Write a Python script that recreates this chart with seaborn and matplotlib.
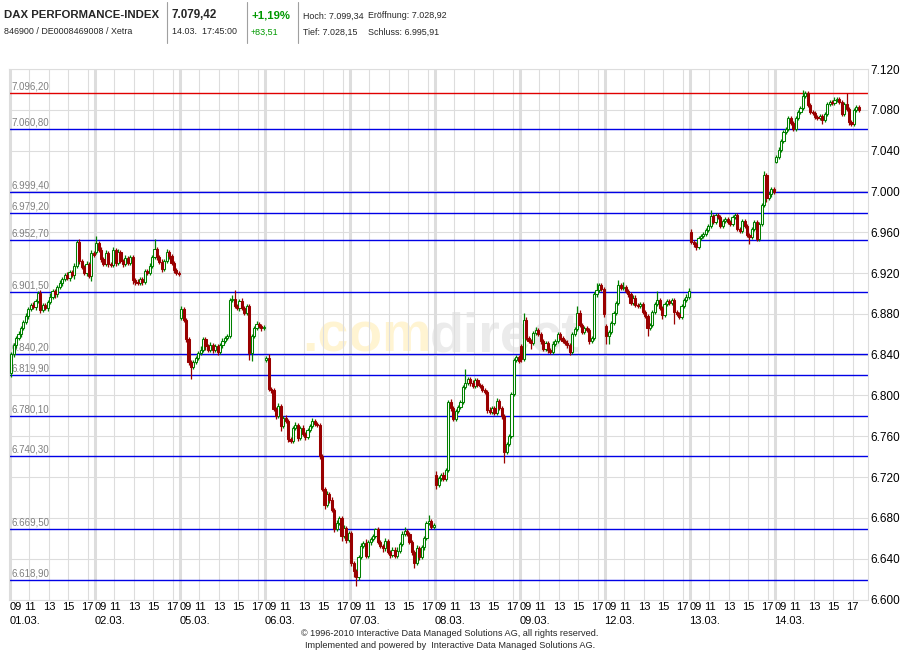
import numpy as np
import pandas as pd
import matplotlib.pyplot as plt
import seaborn as sns

# ===============================
# Style
# ===============================
sns.set_theme(style="white")
plt.rcParams['font.family'] = ['Liberation Sans', 'DejaVu Sans']

# ===============================
# Data (15-min candles, 09:00-17:45)
# ===============================
days = ["01.03.", "02.03.", "05.03.", "06.03.", "07.03.",
        "08.03.", "09.03.", "12.03.", "13.03.", "14.03."]
hour_labels = ["09", "11", "13", "15", "17"]
hour_slots = [0, 8, 16, 24, 32]
SLOTS = 35

levels = [7096.20, 7060.80, 6999.40, 6979.20, 6952.70, 6901.50,
          6840.20, 6819.90, 6780.10, 6740.30, 6669.50, 6618.90]
level_colors = ["#e00000"] + ["#0000e6"] * 11
y_ticks = list(range(6600, 7121, 40))

first_open = [6822, 6941, 6876, 6835, 6665, 6722, 6848, 6868, 6960, 7028.9]

c01 = [6841, 6849, 6856, 6860, 6866, 6872, 6878, 6885, 6889, 6887,
       6893, 6900, 6884, 6889, 6886, 6892, 6897, 6902, 6899, 6906,
       6910, 6914, 6918, 6915, 6921, 6918, 6927, 6950, 6932, 6926,
       6920, 6929, 6917, 6940, 6938]
up01 = [2, 2, 2, 3, 2, 2, 3, 2, 2, 3, 2, 2, 3, 2, 2, 2, 3, 2, 2, 2,
        3, 2, 2, 3, 2, 2, 3, 2, 3, 2, 2, 3, 2, 3, 2]
lo01 = [4, 3, 2, 2, 3, 2, 2, 3, 2, 2, 3, 2, 3, 2, 2, 3, 2, 2, 3, 2,
        2, 3, 2, 2, 3, 2, 4, 2, 3, 2, 2, 3, 2, 5, 2]

c02 = [6949, 6943, 6934, 6929, 6940, 6929, 6928, 6943, 6930, 6941,
       6932, 6929, 6935, 6930, 6936, 6913, 6911, 6910, 6914, 6911,
       6922, 6920, 6927, 6936, 6944, 6936, 6931, 6924, 6932, 6941,
       6937, 6930, 6923, 6920, 6919]
up02 = [7, 2, 3, 2, 3, 2, 2, 3, 2, 3, 2, 2, 3, 2, 2, 2, 2, 3, 2, 2,
        2, 2, 3, 2, 9, 2, 2, 3, 2, 3, 2, 2, 2, 2, 2]
lo02 = [2, 2, 3, 2, 2, 3, 2, 2, 3, 2, 2, 3, 2, 2, 2, 4, 3, 2, 2, 3,
        2, 2, 2, 2, 2, 3, 2, 3, 2, 2, 3, 2, 3, 2, 2]

c05 = [6885, 6874, 6855, 6833, 6828, 6833, 6837, 6842, 6845, 6855,
       6848, 6845, 6849, 6845, 6848, 6843, 6849, 6853, 6856, 6858,
       6894, 6895, 6888, 6886, 6893, 6886, 6881, 6888, 6842, 6858,
       6866, 6870, 6868, 6866, 6867]
up05 = [3, 2, 2, 2, 2, 2, 2, 2, 3, 2, 2, 2, 3, 2, 2, 2, 2, 3, 2, 2,
        2, 3, 8, 2, 2, 3, 2, 2, 2, 2, 2, 3, 2, 2, 2]
lo05 = [2, 2, 3, 3, 12, 2, 2, 2, 2, 2, 3, 2, 2, 3, 2, 3, 2, 2, 2, 2,
        2, 2, 2, 2, 3, 2, 2, 2, 7, 8, 2, 2, 2, 3, 2]

c06 = [6837, 6806, 6805, 6787, 6780, 6790, 6770, 6778, 6775, 6757,
       6755, 6768, 6771, 6758, 6768, 6762, 6759, 6766, 6770, 6775,
       6772, 6771, 6741, 6708, 6693, 6703, 6698, 6688, 6669, 6675,
       6680, 6662, 6670, 6658, 6665]
up06 = [2, 4, 2, 2, 2, 3, 2, 2, 3, 2, 2, 2, 3, 2, 2, 3, 2, 2, 2, 3,
        2, 2, 2, 2, 2, 3, 2, 2, 2, 3, 2, 2, 3, 2, 2]
lo06 = [2, 2, 3, 2, 3, 2, 5, 2, 2, 3, 2, 2, 2, 3, 2, 2, 3, 2, 2, 2,
        2, 2, 3, 2, 4, 2, 3, 2, 3, 2, 2, 5, 2, 3, 2]

c07 = [6636, 6628, 6622, 6642, 6652, 6655, 6643, 6656, 6659, 6662,
       6669, 6656, 6652, 6650, 6657, 6647, 6644, 6649, 6643, 6648,
       6654, 6664, 6667, 6664, 6656, 6647, 6636, 6650, 6642, 6651,
       6660, 6675, 6677, 6671, 6673]
up07 = [2, 2, 2, 2, 3, 2, 4, 2, 2, 2, 1, 2, 2, 2, 3, 2, 2, 2, 2, 3,
        2, 3, 4, 2, 2, 2, 2, 3, 2, 2, 2, 2, 6, 2, 2]
lo07 = [3, 6, 9, 3, 2, 2, 2, 2, 3, 2, 2, 2, 2, 3, 2, 2, 3, 2, 2, 2,
        2, 2, 2, 2, 2, 3, 5, 2, 3, 2, 2, 2, 2, 2, 2]

c08 = [6712, 6719, 6722, 6718, 6727, 6794, 6788, 6777, 6785, 6789,
       6794, 6808, 6812, 6816, 6812, 6809, 6815, 6810, 6809, 6805,
       6803, 6786, 6784, 6788, 6783, 6795, 6788, 6780, 6745, 6752,
       6760, 6801, 6835, 6838, 6834]
up08 = [4, 2, 2, 3, 2, 2, 3, 2, 2, 2, 2, 2, 14, 2, 2, 3, 2, 2, 2, 2,
        2, 2, 3, 2, 2, 3, 2, 2, 2, 2, 2, 2, 2, 2, 2]
lo08 = [4, 2, 3, 2, 2, 2, 3, 2, 2, 2, 2, 2, 2, 2, 3, 2, 2, 2, 2, 2,
        2, 3, 2, 2, 2, 2, 2, 3, 11, 2, 2, 2, 2, 2, 2]

c09 = [6836, 6874, 6856, 6853, 6851, 6861, 6864, 6860, 6853, 6846,
       6851, 6845, 6843, 6850, 6853, 6860, 6856, 6853, 6851, 6849,
       6843, 6860, 6865, 6881, 6869, 6862, 6866, 6864, 6853, 6856,
       6899, 6903, 6908, 6904, 6880]
up09 = [2, 7, 3, 2, 2, 2, 3, 2, 2, 2, 2, 2, 2, 3, 2, 2, 2, 2, 2, 3,
        2, 2, 2, 7, 3, 2, 2, 2, 2, 2, 2, 7, 2, 2, 2]
lo09 = [3, 2, 2, 2, 5, 2, 2, 2, 3, 2, 2, 3, 2, 2, 2, 2, 2, 2, 2, 2,
        3, 2, 2, 2, 2, 2, 2, 2, 3, 2, 2, 2, 2, 2, 3]

c12 = [6858, 6862, 6871, 6881, 6891, 6908, 6905, 6906, 6902, 6899,
       6891, 6896, 6889, 6888, 6890, 6882, 6878, 6866, 6869, 6882,
       6890, 6894, 6886, 6879, 6890, 6893, 6891, 6894, 6882, 6880,
       6877, 6888, 6894, 6897, 6902]
up12 = [2, 2, 2, 2, 2, 5, 2, 5, 2, 2, 2, 2, 2, 2, 2, 2, 2, 2, 2, 2,
        2, 8, 2, 2, 2, 2, 2, 2, 2, 2, 2, 2, 2, 2, 3]
lo12 = [8, 8, 2, 2, 2, 2, 2, 2, 2, 2, 2, 2, 2, 2, 2, 2, 2, 8, 2, 2,
        2, 2, 2, 4, 2, 2, 2, 2, 12, 2, 2, 2, 2, 2, 2]

c13 = [6950, 6948, 6946, 6954, 6956, 6958, 6962, 6966, 6976, 6970,
       6977, 6975, 6966, 6971, 6973, 6970, 6968, 6975, 6977, 6963,
       6961, 6971, 6966, 6957, 6955, 6963, 6970, 6953, 6968, 6987,
       7016, 6994, 6997, 7002, 6999]
up13 = [3, 2, 2, 2, 2, 2, 2, 2, 6, 2, 2, 2, 2, 2, 2, 2, 2, 2, 2, 2,
        2, 2, 2, 2, 2, 2, 2, 2, 2, 2, 4, 2, 2, 2, 2]
lo13 = [2, 2, 3, 2, 2, 2, 2, 2, 2, 2, 2, 2, 2, 2, 2, 2, 2, 2, 2, 2,
        2, 2, 2, 2, 7, 2, 2, 2, 2, 2, 2, 4, 2, 2, 2]

c14 = [7034, 7041, 7049, 7058, 7061, 7072, 7067, 7061, 7072, 7078,
       7082, 7094, 7096, 7085, 7078, 7077, 7073, 7072, 7074, 7070,
       7076, 7086, 7088, 7087, 7090, 7091, 7088, 7076, 7086, 7081,
       7068, 7066, 7080, 7083, 7079.42]
up14 = [2, 3, 2, 2, 2, 2, 2, 2, 2, 2, 2, 5, 2, 2, 2, 2, 2, 2, 2, 2,
        2, 2, 2, 2, 3, 2, 2, 2, 2, 10, 2, 2, 2, 2, 2]
lo14 = [1, 2, 2, 2, 2, 2, 2, 2, 2, 2, 2, 2, 2, 2, 2, 2, 2, 2, 2, 4,
        2, 2, 2, 2, 2, 2, 2, 2, 2, 2, 3, 2, 2, 2, 2]

closes = [c01, c02, c05, c06, c07, c08, c09, c12, c13, c14]
uppers = [up01, up02, up05, up06, up07, up08, up09, up12, up13, up14]
lowers = [lo01, lo02, lo05, lo06, lo07, lo08, lo09, lo12, lo13, lo14]

# ===============================
# Build candle table
# ===============================
rows = []
for d, (o0, cl, up, lo) in enumerate(zip(first_open, closes, uppers, lowers)):
    prev = o0
    for k, c in enumerate(cl):
        rows.append({"x": d * SLOTS + k + 0.5, "open": prev, "close": c,
                     "high": max(prev, c) + up[k], "low": min(prev, c) - lo[k]})
        prev = c
df = pd.DataFrame(rows)
df["rise"] = df["close"] >= df["open"]
df["bottom"] = df[["open", "close"]].min(axis=1)
df["height"] = (df["close"] - df["open"]).abs().clip(lower=0.8)

GREEN = "#008000"
RED = "#990000"
GRID = "#dddddd"

# ===============================
# Figure / axes (pixel layout of the original)
# ===============================
W, H = 900, 650
fig = plt.figure(figsize=(9, 6.5), dpi=100)
px_unit = 850 / (10 * SLOTS)
x_left = -0.6
x_right = 10 * SLOTS + 8 / px_unit
ax_left = 10 + x_left * px_unit
ax = fig.add_axes([ax_left / W, 1 - 599.5 / H, (868 - ax_left) / W, (599.5 - 69) / H])
ax.set_facecolor("white")
ax.set_xlim(x_left, x_right)
ax.set_ylim(6600, 7120)

# grid
for y in y_ticks:
    ax.axhline(y, color=GRID, lw=0.8, zorder=1)
for d in range(len(days)):
    ax.axvline(d * SLOTS, color=GRID, lw=2.2, zorder=1)
    for s in hour_slots[1:]:
        ax.axvline(d * SLOTS + s, color=GRID, lw=0.8, zorder=1)

# watermark
ax.text(302 / W, 1 - 352 / H, ".com", transform=fig.transFigure, fontsize=40,
        fontweight="bold", color="#fff4d2", ha="left", va="baseline", zorder=0.5)
ax.text(430 / W, 1 - 352 / H, "direct", transform=fig.transFigure, fontsize=40,
        fontweight="bold", color="#ebebeb", ha="left", va="baseline", zorder=0.5)

# support / resistance levels
for lv, col in zip(levels, level_colors):
    ax.axhline(lv, color=col, lw=1.0, zorder=2)
    txt = f"{lv:,.2f}".replace(",", " ").replace(".", ",").replace(" ", ".")
    ax.text(0.6, lv + 1.5, txt, color="#808080", fontsize=7, ha="left",
            va="bottom", zorder=2.5)

# candles
for rise, col in [(True, GREEN), (False, RED)]:
    part = df[df["rise"] == rise]
    ax.vlines(part["x"], part["low"], part["high"], color=col, lw=0.9, zorder=3)
    ax.bar(part["x"], part["height"], bottom=part["bottom"], width=0.85,
           color="white" if rise else RED, edgecolor=col, linewidth=0.75, zorder=4)

# axes ticks
xt = [d * SLOTS + s for d in range(len(days)) for s in hour_slots]
ax.set_xticks(xt)
ax.set_xticklabels(hour_labels * len(days))
for i, lab in enumerate(ax.get_xticklabels()):
    if i % len(hour_slots) == 0:
        lab.set_horizontalalignment("left")
ax.yaxis.tick_right()
ax.set_yticks(y_ticks)
ax.set_yticklabels([f"{v / 1000:.3f}" for v in y_ticks])
ax.tick_params(axis="x", length=0, pad=2, labelsize=8, colors="black")
ax.tick_params(axis="y", length=0, pad=2, labelsize=8.5, colors="black")
ax.grid(False)
for sp in ax.spines.values():
    sp.set_color(GRID)
    sp.set_linewidth(0.8)

for d, lab in enumerate(days):
    ax.text(d * SLOTS - 0.3, -0.0405, lab, transform=ax.get_xaxis_transform(),
            fontsize=8, ha="left", va="center", color="black")

# ===============================
# Header and footer
# ===============================
def ftext(x, y, s, **kw):
    fig.text(x / W, 1 - y / H, s, va="center", ha="left", **kw)

ftext(4, 15, "DAX PERFORMANCE-INDEX", fontsize=8.2, fontweight="bold")
ftext(4, 32, "846900 / DE0008469008 / Xetra", fontsize=6.4)
ftext(171, 15, "7.079,42", fontsize=8.4, fontweight="bold")
ftext(172, 32, "14.03.  17:45:00", fontsize=6.4)
ftext(251, 15, "+1,19%", fontsize=8.2, fontweight="bold", color="#009900")
ftext(251, 32, "+83,51", fontsize=6.4, color="#009900")
ftext(303, 16, "Hoch: 7.099,34", fontsize=6.4)
ftext(368, 16, "Eröffnung: 7.028,92", fontsize=6.4)
ftext(303, 32, "Tief: 7.028,15", fontsize=6.4)
ftext(368, 32, "Schluss: 6.995,91", fontsize=6.4)
for xs in [167, 247, 298]:
    fig.add_artist(plt.Line2D([xs / W, xs / W], [1 - 2 / H, 1 - 43 / H],
                              transform=fig.transFigure, color="#a0a0a0", lw=0.8))

fig.text(0.5, 1 - 634 / H, "\u00a9 1996-2010 Interactive Data Managed Solutions AG, all rights reserved.",
         ha="center", va="center", fontsize=6.6)
fig.text(0.5, 1 - 645 / H, "Implemented and powered by  Interactive Data Managed Solutions AG.",
         ha="center", va="center", fontsize=6.6)

fig.savefig("out.png", dpi=100)
print("saved out.png")
